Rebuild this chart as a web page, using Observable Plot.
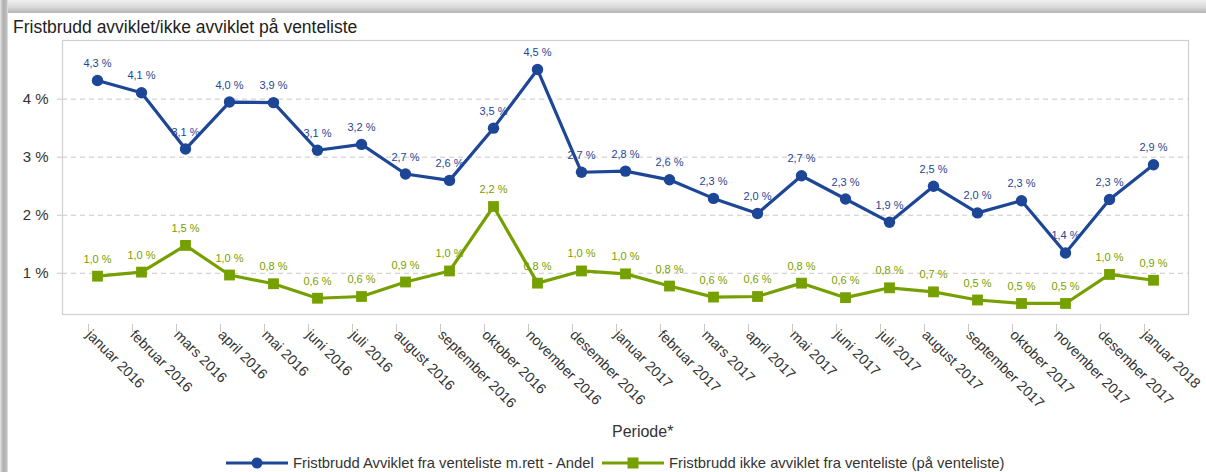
<!DOCTYPE html>
<html>
<head>
<meta charset="utf-8">
<script src="https://cdn.jsdelivr.net/npm/d3@7"></script>
<script src="https://cdn.jsdelivr.net/npm/@observablehq/plot@0.6"></script>
<style>
  html, body { margin: 0; padding: 0; background: #fff; overflow: hidden; }
  #wrap { position: relative; width: 1206px; height: 472px; overflow: hidden; background: #fff;
          font-family: "Liberation Sans", Arial, sans-serif; }
  #topband { position: absolute; left: 0; top: 0; width: 1206px; height: 13px;
             background: linear-gradient(#f0f0f0, #d8d8d8 55%, #b4b4b4); }
  #leftband { position: absolute; left: 0; top: 0; width: 8px; height: 472px;
              background: linear-gradient(to right, #e6e6e6, #b0b0b0 40%, #bcbcbc 80%, #e8e8e8); }
  #title { position: absolute; left: 13px; top: 17px; font-size: 17.5px; color: #222; white-space: nowrap; }
  #chart { position: absolute; left: 0; top: 0; }
  #xlabel { position: absolute; left: 612px; top: 423px; font-size: 16px; color: #333; }
  #legend { position: absolute; left: 0; top: 454px; width: 1206px; height: 20px; font-size: 14.8px; color: #333; }
  .li { position: absolute; top: 0; display: flex; align-items: center; height: 18px; white-space: nowrap; }
</style>
</head>
<body>
<div id="wrap">
  <div id="chart"></div>
  <div id="topband"></div>
  <div id="leftband"></div>
  <div id="title">Fristbrudd avviklet/ikke avviklet på venteliste</div>
  <div id="xlabel">Periode*</div>
  <div id="legend"></div>
</div>
<script>
const periods = ["januar 2016","februar 2016","mars 2016","april 2016","mai 2016","juni 2016","juli 2016","august 2016","september 2016","oktober 2016","november 2016","desember 2016","januar 2017","februar 2017","mars 2017","april 2017","mai 2017","juni 2017","juli 2017","august 2017","september 2017","oktober 2017","november 2017","desember 2017","januar 2018"];
const avvikletValues = [4.32,4.11,3.14,3.95,3.94,3.12,3.22,2.71,2.60,3.50,4.51,2.74,2.76,2.61,2.29,2.03,2.68,2.28,1.88,2.50,2.04,2.25,1.35,2.27,2.87];
const avvikletLabels = ["4,3 %","4,1 %","3,1 %","4,0 %","3,9 %","3,1 %","3,2 %","2,7 %","2,6 %","3,5 %","4,5 %","2,7 %","2,8 %","2,6 %","2,3 %","2,0 %","2,7 %","2,3 %","1,9 %","2,5 %","2,0 %","2,3 %","1,4 %","2,3 %","2,9 %"];
const ikkeValues = [0.95,1.02,1.48,0.97,0.82,0.57,0.60,0.85,1.04,2.15,0.83,1.04,0.99,0.78,0.59,0.60,0.83,0.58,0.75,0.68,0.54,0.48,0.48,0.98,0.88];
const ikkeLabels = ["1,0 %","1,0 %","1,5 %","1,0 %","0,8 %","0,6 %","0,6 %","0,9 %","1,0 %","2,2 %","0,8 %","1,0 %","1,0 %","0,8 %","0,6 %","0,6 %","0,8 %","0,6 %","0,8 %","0,7 %","0,5 %","0,5 %","0,5 %","1,0 %","0,9 %"];
const yTicks = [1, 2, 3, 4];
const seriesNames = ["Fristbrudd Avviklet fra venteliste m.rett - Andel", "Fristbrudd ikke avviklet fra venteliste (på venteliste)"];
const blue = "#1d4696";
const green = "#76a000";

const avv = periods.map((p, i) => ({period: p, value: avvikletValues[i], label: avvikletLabels[i]}));
const ikke = periods.map((p, i) => ({period: p, value: ikkeValues[i], label: ikkeLabels[i]}));

const chart = Plot.plot({
  width: 1206,
  height: 420,
  marginTop: 40,
  marginLeft: 62,
  marginRight: 18,
  marginBottom: 106,
  style: {fontFamily: "'Liberation Sans', Arial, sans-serif", background: "transparent"},
  x: {type: "point", domain: periods, padding: 0.75},
  y: {domain: [0.29, 5.01]},
  marks: [
    Plot.gridY(yTicks, {stroke: "#c8c8c8", strokeOpacity: 1, strokeDasharray: "5,4", strokeWidth: 1}),
    Plot.frame({stroke: "#cfcfcf", strokeWidth: 1.2}),
    Plot.axisY(yTicks, {tickSize: 9, tickPadding: 5, tickFormat: d => d + " %", stroke: "#c8c8c8", strokeDasharray: "5,4", fill: "#333", fontSize: 15, label: null}),
    Plot.axisX({tickSize: 8, tickPadding: 0, tickRotate: 45, textAnchor: "start", lineAnchor: "middle", dx: -9, dy: 10, stroke: "#c8c8c8", fill: "#333", fontSize: 14.3, label: null}),
    Plot.line(avv, {x: "period", y: "value", stroke: blue, strokeWidth: 3.2}),
    Plot.dot(avv, {x: "period", y: "value", r: 5.7, fill: blue, stroke: "none"}),
    Plot.text(avv, {x: "period", y: "value", text: "label", dy: -17, fill: blue, fontSize: 11}),
    Plot.line(ikke, {x: "period", y: "value", stroke: green, strokeWidth: 3.2}),
    Plot.dot(ikke, {x: "period", y: "value", r: 6.1, symbol: "square", fill: green, stroke: "none"}),
    Plot.text(ikke, {x: "period", y: "value", text: "label", dy: -17, fill: green, fontSize: 11})
  ]
});
document.getElementById("chart").appendChild(chart);

// Legend
const legend = document.getElementById("legend");
const items = [
  {name: seriesNames[0], color: blue, symbol: "circle", left: 226},
  {name: seriesNames[1], color: green, symbol: "square", left: 602}
];
for (const it of items) {
  const d = document.createElement("div");
  d.className = "li";
  d.style.left = it.left + "px";
  const marker = it.symbol === "circle"
    ? `<circle cx="31" cy="9" r="5.5" fill="${it.color}"/>`
    : `<rect x="25.5" y="3.5" width="11" height="11" fill="${it.color}"/>`;
  d.innerHTML = `<svg width="62" height="18" style="margin-right:5px"><line x1="0" x2="62" y1="9" y2="9" stroke="${it.color}" stroke-width="3.2"/>${marker}</svg><span>${it.name}</span>`;
  legend.appendChild(d);
}
</script>
</body>
</html>
